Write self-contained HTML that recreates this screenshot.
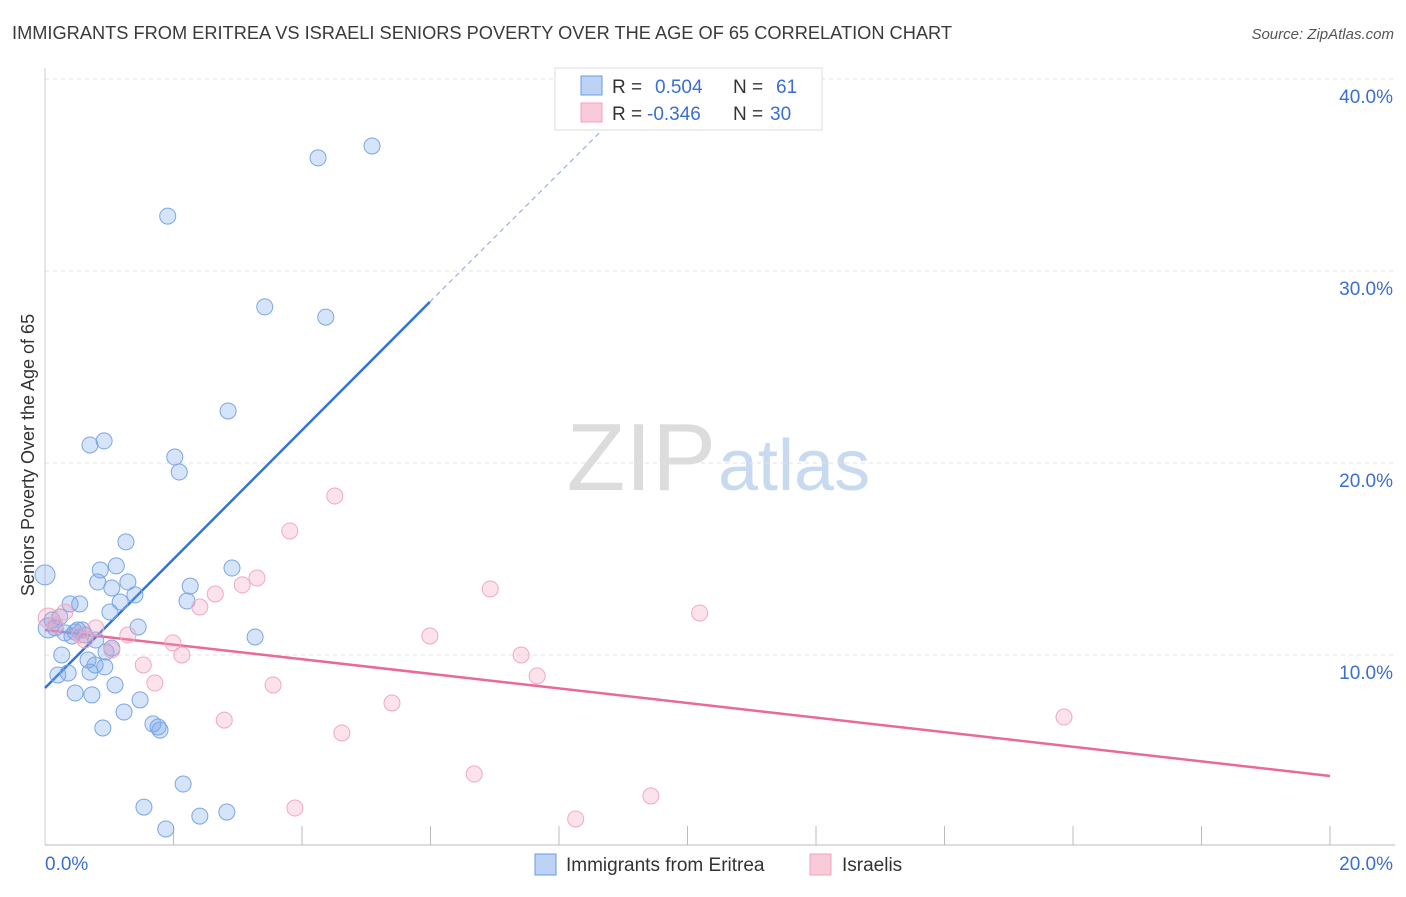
<!DOCTYPE html>
<html><head><meta charset="utf-8"><style>
body{margin:0;background:#fff;font-family:"Liberation Sans",sans-serif;}
svg text{font-family:"Liberation Sans",sans-serif;}
</style></head><body>
<svg id="chart" width="1406" height="892">
<text x="12" y="39" font-size="18" fill="#3a3a3a" textLength="940" lengthAdjust="spacingAndGlyphs">IMMIGRANTS FROM ERITREA VS ISRAELI SENIORS POVERTY OVER THE AGE OF 65 CORRELATION CHART</text>
<text x="1394" y="39" font-size="15" fill="#555" font-style="italic" text-anchor="end">Source: ZipAtlas.com</text>
<text x="716" y="490" font-size="96" fill="#dcdcdc" text-anchor="end" font-family="Liberation Serif">ZIP</text>
<text x="718" y="490" font-size="72" fill="#c8daf0">atlas</text>
<text transform="translate(34,455) rotate(-90)" font-size="18" fill="#333" text-anchor="middle">Seniors Poverty Over the Age of 65</text>
<g id="grid"></g><g id="axes"></g><g id="lines"></g><g id="points"></g>
<g>
<rect x="555" y="68" width="267" height="62" fill="#fff" stroke="#ddd"/>
<rect x="581" y="76" width="21" height="19" fill="#bcd3f5" stroke="#6a9be0"/>
<rect x="581" y="103" width="21" height="19" fill="#f9cbd9" stroke="#f0a0bc"/>
<text x="612" y="93" font-size="19" fill="#333">R =</text>
<text x="655" y="93" font-size="19" fill="#3a6fd0">0.504</text>
<text x="733" y="93" font-size="19" fill="#333">N =</text>
<text x="776" y="93" font-size="19" fill="#3a6fd0">61</text>
<text x="612" y="120" font-size="19" fill="#333">R =</text>
<text x="647" y="120" font-size="19" fill="#3a6fd0">-0.346</text>
<text x="733" y="120" font-size="19" fill="#333">N =</text>
<text x="770" y="120" font-size="19" fill="#3a6fd0">30</text>
</g>
<g>
<rect x="535" y="854" width="21" height="21" fill="#bcd3f5" stroke="#6a9be0"/>
<text x="566" y="871" font-size="19" fill="#333">Immigrants from Eritrea</text>
<rect x="810" y="854" width="21" height="21" fill="#f9cbd9" stroke="#f0a0bc"/>
<text x="842" y="871" font-size="19" fill="#333">Israelis</text>
</g>
</svg>
<script>
const xTicks=[0,20];
const yTicks=[10,20,30,40];
const blueX=[0,.11,.16,.26,.20,.36,.31,.39,.47,.54,.58,.62,.67,.70,.73,.47,.70,.92,.82,.86,1.01,1.04,1.11,1.17,1.26,1.29,1.40,1.45,1.04,.78,.93,1.09,1.23,.90,1.48,1.68,1.76,1.79,1.54,1.88,2.15,2.41,2.83,1.91,2.02,2.09,2.26,2.21,2.85,2.91,3.27,3.42,4.25,4.37,5.09,.23,.42,.51,.05,.79,.95];
const blueY=[14.17,11.82,11.41,10.0,8.96,9.06,11.15,12.66,11.2,12.66,11.3,11.04,9.74,9.11,7.92,8.02,20.94,21.15,13.8,14.43,12.24,13.49,14.64,12.76,15.89,13.8,13.13,11.46,10.36,9.48,9.38,8.44,7.03,6.2,7.66,6.41,6.25,6.09,2.08,.94,3.28,1.61,1.82,32.86,20.31,19.53,13.59,12.81,22.71,14.53,10.94,28.13,35.89,27.6,36.51,11.98,10.99,11.3,11.41,10.78,10.16];
const pinkX=[.05,.16,.31,.54,.62,.79,1.04,1.29,1.53,1.71,1.99,2.13,2.41,2.65,2.79,3.07,3.30,3.55,3.81,3.89,4.51,4.62,5.40,5.99,6.68,6.93,7.41,7.66,8.26,9.43,10.19,15.86];
const pinkY=[11.93,11.56,12.24,11.04,10.78,11.41,10.26,11.04,9.48,8.54,10.63,10.0,12.5,13.18,6.61,13.65,14.01,8.44,16.46,2.03,18.28,5.94,7.5,10.99,3.8,13.44,10.0,8.91,1.46,2.66,12.19,6.77];
const blueLine=[0,8.28,5.99,28.39];
const blueDash=[5.99,28.39,8.87,38.0];
const pinkLine=[0,11.3,20,3.7];
const NS="http://www.w3.org/2000/svg";
const sx=v=>45+v*64.25, sy=v=>847-v*19.2;
function mk(tag,attrs,parent){const e=document.createElementNS(NS,tag);for(const k in attrs)e.setAttribute(k,attrs[k]);document.getElementById(parent).appendChild(e);return e;}
yTicks.forEach(t=>{
 const l=mk('line',{x1:45,x2:1395,y1:sy(t),y2:sy(t),stroke:'#e2e2e2','stroke-dasharray':'4,4'},'grid');
 
 
 const tx=mk('text',{x:1393,y:sy(t)+24,'font-size':19,fill:'#3a6fd0','text-anchor':'end'},'axes');
 tx.textContent=t.toFixed(1)+'%';
 
 
});
const xa=mk('line',{x1:45,x2:1395,y1:845,y2:845,stroke:'#bbb'},'axes');


const ya=mk('line',{x1:45,x2:45,y1:68,y2:845,stroke:'#ccc'},'axes');


for(let i=1;i<=10;i++){const t=mk('line',{x1:sx(i*2),x2:sx(i*2),y1:826,y2:845,stroke:'#bbb'},'axes');
 
 }
xTicks.forEach((t,i)=>{const tx=mk('text',{x:i?1393:45,y:870,'font-size':19,fill:'#3a6fd0','text-anchor':i?'end':'start'},'axes');
 tx.textContent=t.toFixed(1)+'%';
 
 });
function drawPts(X,Y,fill,stroke,name){X.forEach((x,i)=>{const c=mk('circle',{cx:sx(x),cy:sy(Y[i]),r:(x<0.1?10:8),fill:fill,stroke:stroke,'stroke-width':1},'points');
 
 });}
drawPts(blueX,blueY,'rgba(120,165,235,0.3)','#7aa6e4','eritrea-point');
drawPts(pinkX,pinkY,'rgba(245,160,190,0.3)','#f2a8c2','israelis-point');
let l1=mk('line',{x1:sx(blueLine[0]),y1:sy(blueLine[1]),x2:sx(blueLine[2]),y2:sy(blueLine[3]),stroke:'#2f74d6','stroke-width':2.5},'lines');


let l2=mk('line',{x1:sx(blueDash[0]),y1:sy(blueDash[1]),x2:sx(blueDash[2]),y2:sy(blueDash[3]),stroke:'#8fb3e8','stroke-width':1.2,'stroke-dasharray':'5,4'},'lines');


let l3=mk('line',{x1:sx(pinkLine[0]),y1:sy(pinkLine[1]),x2:sx(pinkLine[2]),y2:sy(pinkLine[3]),stroke:'#e8699a','stroke-width':2.5},'lines');


</script>
</body></html>
